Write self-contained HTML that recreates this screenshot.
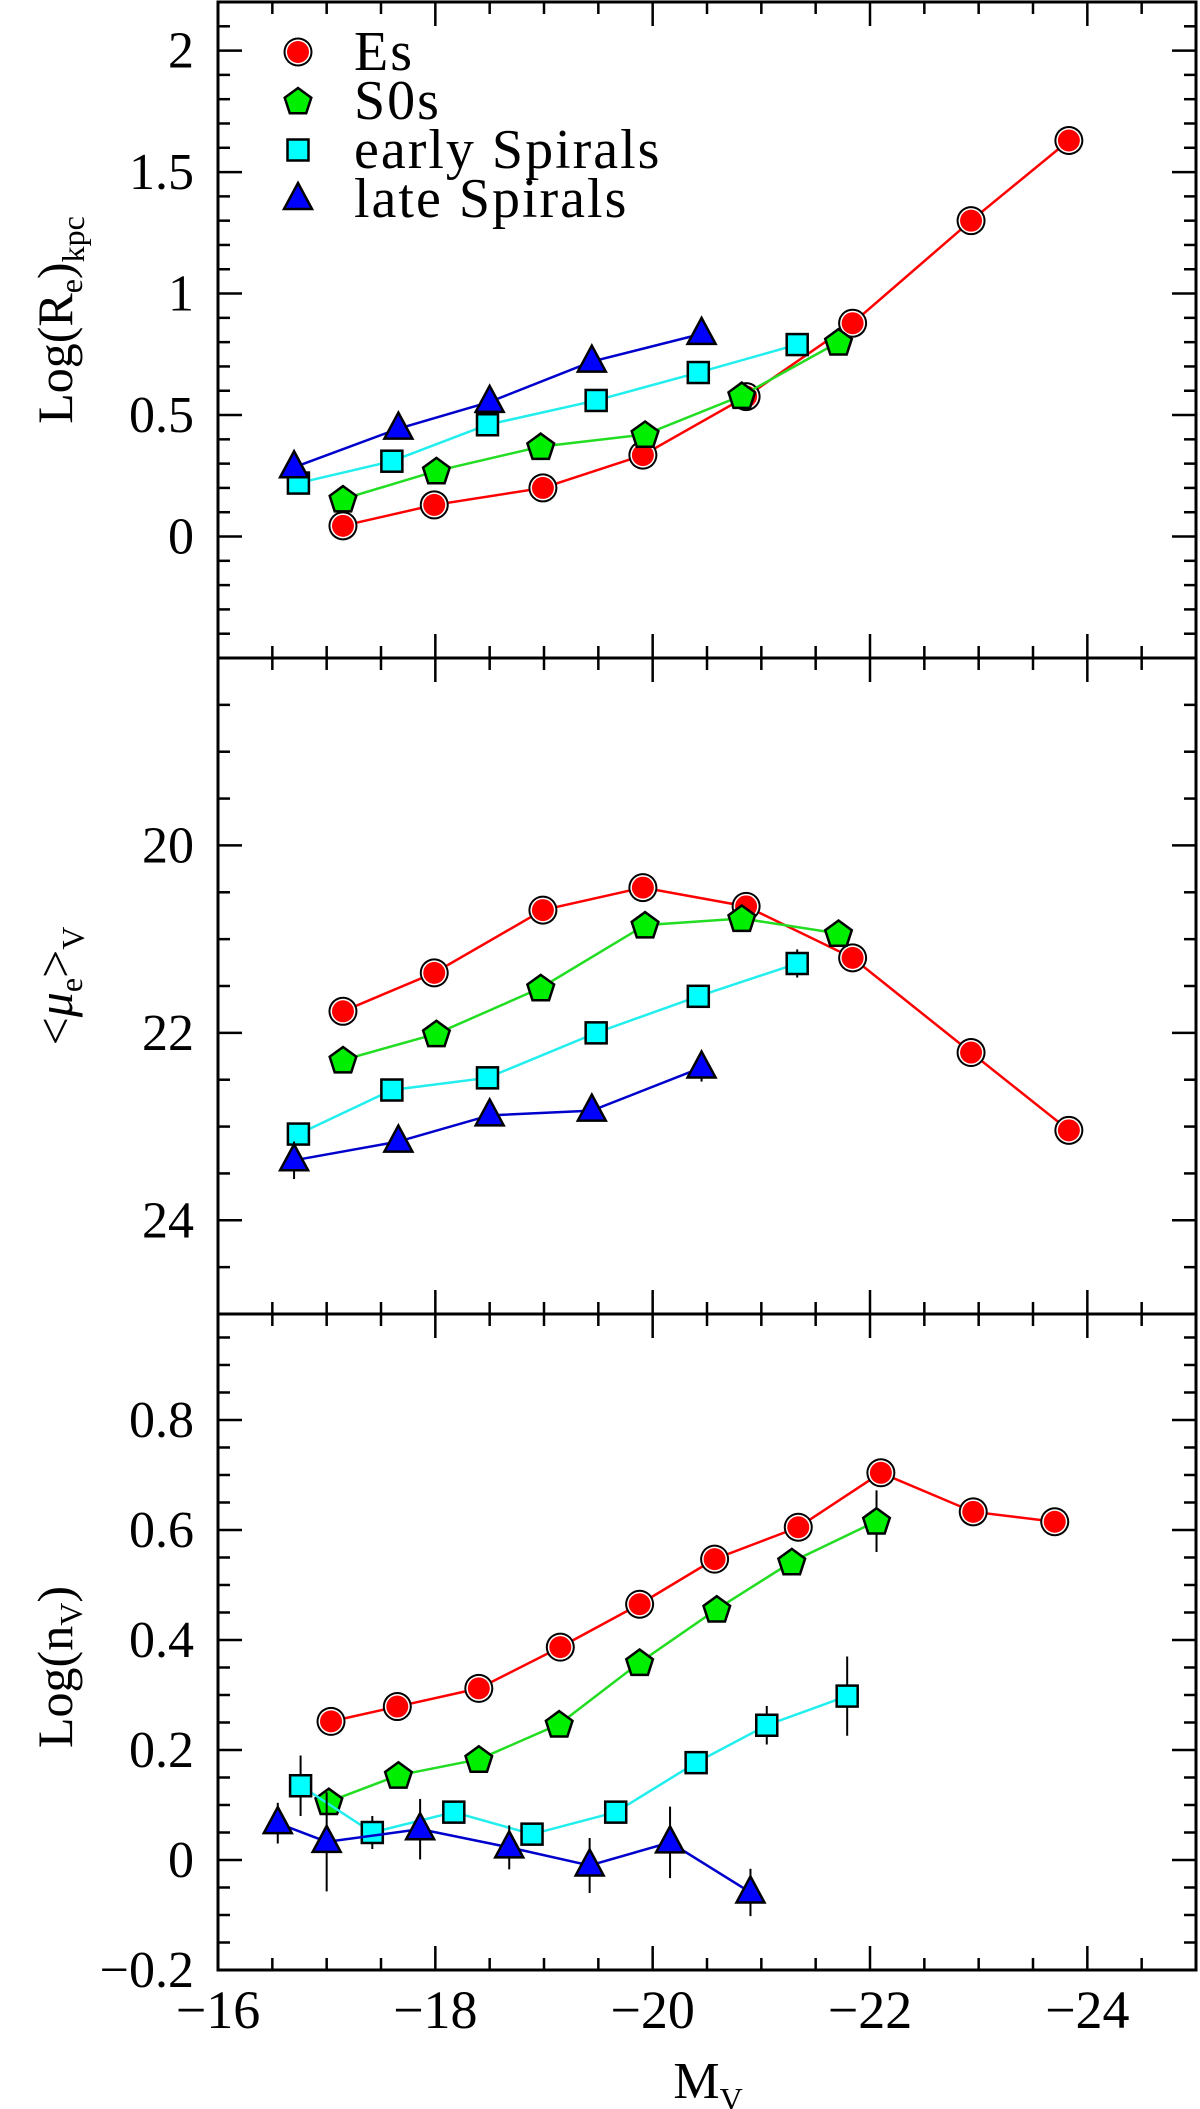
<!DOCTYPE html>
<html><head><meta charset="utf-8"><style>
body{margin:0;background:#fff}
svg{display:block}
text{font-family:"Liberation Serif",serif;fill:#000}
</style></head><body>
<svg id="chart" width="1200" height="2109" viewBox="0 0 1200 2109" xmlns="http://www.w3.org/2000/svg"></svg>
<script>
// ---- data ----
const esMag1 = [-17.15,-17.99,-18.99,-19.91,-20.86,-21.84,-22.93,-23.83];
const esRe = [0.044,0.13,0.20,0.335,0.576,0.878,1.30,1.63];
const s0Mag1 = [-17.15,-18.01,-18.97,-19.93,-20.82,-21.71];
const s0Re = [0.154,0.27,0.37,0.42,0.58,0.80];
const esSMag1 = [-16.74,-17.6,-18.48,-19.48,-20.42,-21.33];
const esSRe = [0.22,0.31,0.46,0.56,0.675,0.79];
const lsMag1 = [-16.70,-17.66,-18.50,-19.44,-20.45];
const lsRe = [0.285,0.444,0.554,0.72,0.834];

const esMu = [21.77,21.36,20.69,20.45,20.65,21.2,22.21,23.04];
const esMuErr = [0.03,0.03,0.03,0.03,0.03,0.03,0.05,0.12];
const s0Mu = [22.29,22.01,21.52,20.85,20.78,20.94];
const s0MuErr = [0.03,0.03,0.03,0.03,0.03,0.05];
const esSMu = [23.08,22.61,22.48,22.0,21.61,21.26];
const esSMuErr = [0.1,0.03,0.03,0.03,0.03,0.15];
const lsMu = [23.36,23.16,22.88,22.83,22.37];
const lsMuErr = [0.2,0.1,0.1,0.1,0.15];

const esMag3 = [-17.04,-17.65,-18.40,-19.15,-19.88,-20.57,-21.34,-22.10,-22.95,-23.70];
const esN = [0.252,0.279,0.312,0.387,0.465,0.547,0.605,0.704,0.633,0.615];
const esNErr = [0.01,0.01,0.01,0.01,0.01,0.01,0.01,0.01,0.01,0.01];
const s0Mag3 = [-17.02,-17.66,-18.40,-19.14,-19.88,-20.59,-21.28,-22.06];
const s0N = [0.106,0.154,0.183,0.247,0.359,0.456,0.542,0.616];
const s0NErr = [0.01,0.01,0.01,0.01,0.01,0.01,0.01,0.056];
const esSMag3 = [-16.76,-17.42,-18.17,-18.89,-19.66,-20.40,-21.05,-21.79];
const esSN = [0.135,0.05,0.087,0.047,0.087,0.177,0.245,0.298];
const esSNErr = [0.055,0.03,0.02,0.02,0.01,0.02,0.035,0.072];
const lsMag3 = [-16.55,-17.0,-17.86,-18.68,-19.42,-20.16,-20.90];
const lsN = [0.067,0.033,0.056,0.023,-0.01,0.032,-0.059];
const lsNErr = [0.037,0.09,0.055,0.04,0.05,0.065,0.043];

const xTickLabels = ["−16","−18","−20","−22","−24"];
const xTickValues = [-16,-18,-20,-22,-24];
const p1TickValues = [0,0.5,1,1.5,2];
const p1TickLabels = ["0","0.5","1","1.5","2"];
const p2TickValues = [20,22,24];
const p2TickLabels = ["20","22","24"];
const p3TickValues = [-0.2,0,0.2,0.4,0.6,0.8];
const p3TickLabels = ["−0.2","0","0.2","0.4","0.6","0.8"];

// ---- layout ----
const L=218,R=1196;
const X = m => L + (-m - 16) * ((R-L)/9);
const P1={top:2,bot:658,min:-0.5,max:2.2,rev:false};
const P2={top:658,bot:1314,min:18,max:25,rev:true};
const P3={top:1314,bot:1970,min:-0.2,max:0.9927,rev:false};
function Y(p,v){const f=(v-p.min)/(p.max-p.min);return p.rev? p.top+f*(p.bot-p.top) : p.bot-f*(p.bot-p.top);}

const svg=document.getElementById('chart');
const NS='http://www.w3.org/2000/svg';
function el(t,a,parent){const e=document.createElementNS(NS,t);for(const k in a)e.setAttribute(k,a[k]);(parent||svg).appendChild(e);return e;}

function axes(p,name,minorStep,majorStep,yTicks,yLabels){
  const g=el('g',{});
  
  
  for(let m=-16;m>=-25.001;m-=0.5){
    const x=X(m);const maj=Math.abs(Math.round(m/2)*2-m)<1e-6;
    const len=maj?24:12;
    el('line',{x1:x,y1:p.bot,x2:x,y2:p.bot-len,stroke:'#000','stroke-width':2.5},g);
    el('line',{x1:x,y1:p.top,x2:x,y2:p.top+len,stroke:'#000','stroke-width':2.5},g);
  }
  const lo=Math.min(p.min,p.max),hi=Math.max(p.min,p.max);
  const n0=Math.ceil(lo/minorStep-1e-6),n1=Math.floor(hi/minorStep+1e-6);
  for(let i=n0;i<=n1;i++){
    const v=i*minorStep;const y=Y(p,v);
    if(y<p.top+1||y>p.bot-1)continue;
    const maj=Math.abs(v/majorStep-Math.round(v/majorStep))<1e-6;
    const len=maj?24:12;
    el('line',{x1:L,y1:y,x2:L+len,y2:y,stroke:'#000','stroke-width':2.5},g);
    el('line',{x1:R,y1:y,x2:R-len,y2:y,stroke:'#000','stroke-width':2.5},g);
  }
  yTicks.forEach((v,i)=>{
    const t=el('text',{x:194,y:Y(p,v)+17,'text-anchor':'end','font-size':52},g);
    
    
    t.textContent=yLabels[i];
  });
  el('rect',{x:L,y:p.top,width:R-L,height:p.bot-p.top,fill:'none',stroke:'#000','stroke-width':3},g);
}
axes(P1,'panel-radius',0.1,0.5,p1TickValues,p1TickLabels);
axes(P2,'panel-surface-brightness',0.5,2,p2TickValues,p2TickLabels);
axes(P3,'panel-sersic-index',0.05,0.2,p3TickValues,p3TickLabels);

xTickValues.forEach((v,i)=>{
  const t=el('text',{x:X(v),y:2028,'text-anchor':'middle','font-size':54});
  
  
  t.textContent=xTickLabels[i];
});

function marker(type,x,y,g){
  if(type==='circle'){
    el('circle',{cx:x,cy:y,r:14.5,fill:'#000'},g);
    el('circle',{cx:x,cy:y,r:12.5,fill:'#fff'},g);
    el('circle',{cx:x,cy:y,r:11,fill:'#f00'},g);
  }else if(type==='pent'){
    const pts=[];for(let k=0;k<5;k++){const a=-Math.PI/2+k*2*Math.PI/5;pts.push((x+14*Math.cos(a)).toFixed(1)+','+(y+14*Math.sin(a)+1).toFixed(1));}
    el('polygon',{points:pts.join(' '),fill:'#0e0',stroke:'#000','stroke-width':2.5},g);
  }else if(type==='square'){
    el('rect',{x:x-10.5,y:y-10.5,width:21,height:21,fill:'#0ff',stroke:'#000','stroke-width':2.5},g);
  }else{
    el('polygon',{points:`${x},${y-16} ${x+14},${y+10} ${x-14},${y+10}`,fill:'#00f',stroke:'#000','stroke-width':2.5},g);
  }
}
function series(p,name,mags,vals,errs,color,type){
  const g=el('g',{});
  
  
  const pts=mags.map((m,i)=>X(m)+','+Y(p,vals[i]));
  el('polyline',{points:pts.join(' '),fill:'none',stroke:color,'stroke-width':2.5},g);
  if(errs)mags.forEach((m,i)=>{
    el('line',{x1:X(m),x2:X(m),y1:Y(p,vals[i]-errs[i]),y2:Y(p,vals[i]+errs[i]),stroke:'#000','stroke-width':2},g);
  });
  mags.forEach((m,i)=>marker(type,X(m),Y(p,vals[i]),g));
}
series(P1,'es-radius-series',esMag1,esRe,null,'#f00','circle');
series(P1,'s0-radius-series',s0Mag1,s0Re,null,'#2d2','pent');
series(P1,'early-spiral-radius-series',esSMag1,esSRe,null,'#2ee','square');
series(P1,'late-spiral-radius-series',lsMag1,lsRe,null,'#00c','tri');

series(P2,'es-mu-series',esMag1,esMu,esMuErr,'#f00','circle');
series(P2,'s0-mu-series',s0Mag1,s0Mu,s0MuErr,'#2d2','pent');
series(P2,'early-spiral-mu-series',esSMag1,esSMu,esSMuErr,'#2ee','square');
series(P2,'late-spiral-mu-series',lsMag1,lsMu,lsMuErr,'#00c','tri');

series(P3,'es-n-series',esMag3,esN,esNErr,'#f00','circle');
series(P3,'s0-n-series',s0Mag3,s0N,s0NErr,'#2d2','pent');
series(P3,'early-spiral-n-series',esSMag3,esSN,esSNErr,'#2ee','square');
series(P3,'late-spiral-n-series',lsMag3,lsN,lsNErr,'#00c','tri');

const legNames=['Es','S0s','early Spirals','late Spirals'];
const legTypes=['circle','pent','square','tri'];
legNames.forEach((n,i)=>{
  const g=el('g',{});
  
  
  const y=52+i*49;
  marker(legTypes[i],298,y,g);
  const t=el('text',{x:354,y:y+18,'font-size':56,'letter-spacing':2},g);
  t.textContent=n;
});
</script>
<div style="position:absolute;left:0;top:0;width:1200px;height:2109px;pointer-events:none">
<svg width="1200" height="2109" style="position:absolute;left:0;top:0">
<text transform="translate(72,320) rotate(-90)" text-anchor="middle" font-size="50" font-family="Liberation Serif, serif">Log(R<tspan font-size="32" dy="10">e</tspan><tspan dy="-10">)</tspan><tspan font-size="32" dy="12">kpc</tspan></text>
<text transform="translate(72,986) rotate(-90)" text-anchor="middle" font-size="50" font-family="Liberation Serif, serif">&lt;<tspan font-style="italic">μ</tspan><tspan font-size="32" dy="10">e</tspan><tspan dy="-10">&gt;</tspan><tspan font-size="32" dy="12">V</tspan></text>
<text transform="translate(72,1667) rotate(-90)" text-anchor="middle" font-size="50" font-family="Liberation Serif, serif">Log(n<tspan font-size="32" dy="10">V</tspan><tspan dy="-10">)</tspan></text>
<text x="708" y="2098" text-anchor="middle" font-size="52" font-family="Liberation Serif, serif">M<tspan font-size="32" dy="12">V</tspan></text>
</svg></div>
</body></html>
